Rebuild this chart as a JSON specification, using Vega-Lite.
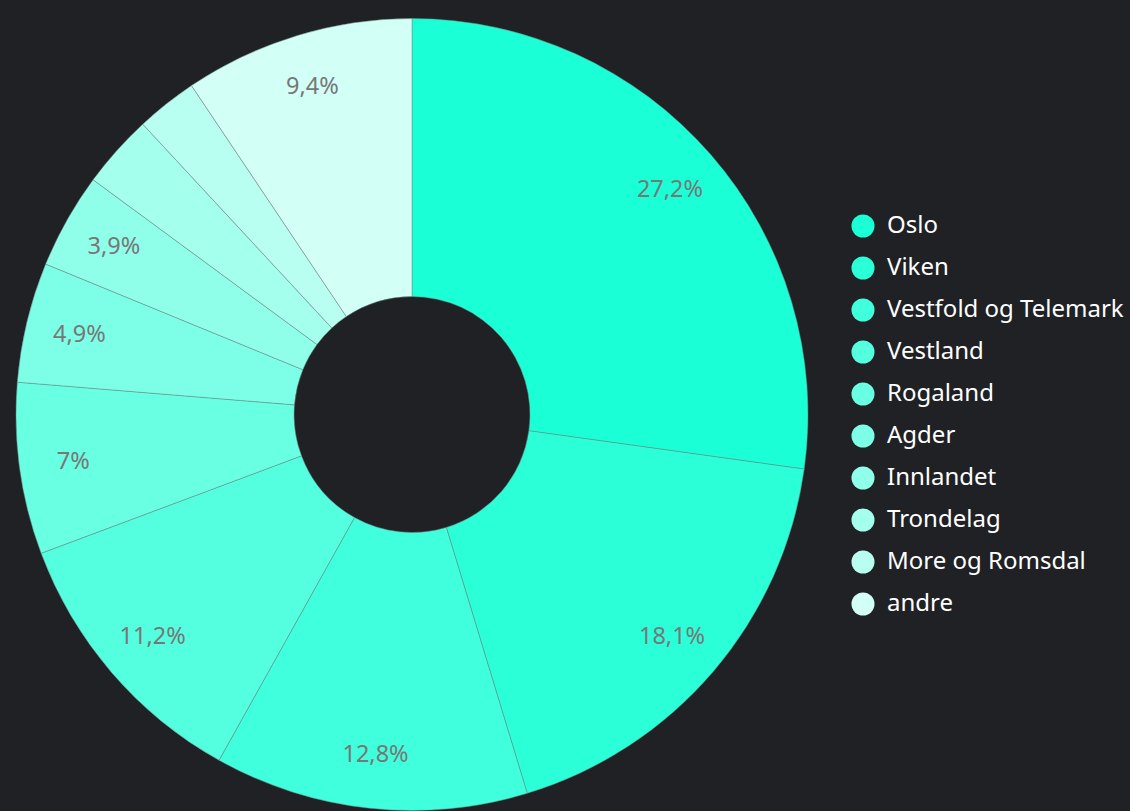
{
  "$schema": "https://vega.github.io/schema/vega-lite/v6.json",
  "width": 824,
  "height": 793,
  "autosize": {"type": "none"},
  "padding": {"left": 0, "top": 18, "right": 306, "bottom": 0},
  "background": "#202124",
  "config": {
    "view": {"stroke": null},
    "locale": {"number": {"decimal": ",", "thousands": ".", "grouping": [3], "currency": ["", " kr"]}}
  },
  "data": {
    "values": [
      {"region": "Oslo", "share": 0.272, "rank": 1},
      {"region": "Viken", "share": 0.181, "rank": 2},
      {"region": "Vestfold og Telemark", "share": 0.128, "rank": 3},
      {"region": "Vestland", "share": 0.112, "rank": 4},
      {"region": "Rogaland", "share": 0.07, "rank": 5},
      {"region": "Agder", "share": 0.049, "rank": 6},
      {"region": "Innlandet", "share": 0.039, "rank": 7},
      {"region": "Trondelag", "share": 0.030, "rank": 8},
      {"region": "More og Romsdal", "share": 0.025, "rank": 9},
      {"region": "andre", "share": 0.094, "rank": 10}
    ]
  },
  "encoding": {
    "theta": {"field": "share", "type": "quantitative", "stack": true},
    "order": {"field": "rank", "type": "quantitative", "sort": "ascending"}
  },
  "layer": [
    {
      "mark": {"type": "arc", "innerRadius": 118, "outerRadius": 396, "stroke": "#6f8f88", "strokeWidth": 0.5},
      "encoding": {
        "color": {
          "field": "region",
          "type": "nominal",
          "sort": null,
          "scale": {
            "domain": ["Oslo", "Viken", "Vestfold og Telemark", "Vestland", "Rogaland", "Agder", "Innlandet", "Trondelag", "More og Romsdal", "andre"],
            "range": ["#1affd5", "#2bffd8", "#40ffdc", "#54ffe0", "#68ffe3", "#7cffe6", "#90ffea", "#a4ffed", "#b8fff1", "#d2fff6"]
          },
          "legend": {
            "title": null,
            "orient": "none",
            "legendX": 851,
            "legendY": 196,
            "labelColor": "#ffffff",
            "labelFont": "Noto Sans",
            "labelFontSize": 24,
            "labelOffset": 12,
            "labelLimit": 400,
            "symbolType": "circle",
            "symbolSize": 530,
            "symbolStrokeWidth": 0,
            "symbolOpacity": 1,
            "rowPadding": 18
          }
        }
      }
    },
    {
      "mark": {"type": "text", "radius": 342, "font": "Noto Sans", "fontSize": 23.5, "color": "#777777", "align": "center", "baseline": "middle"},
      "encoding": {
        "text": {"field": "share", "type": "quantitative", "format": "~%"},
        "opacity": {"condition": {"test": "datum.share < 0.035", "value": 0}, "value": 1}
      }
    }
  ]
}
